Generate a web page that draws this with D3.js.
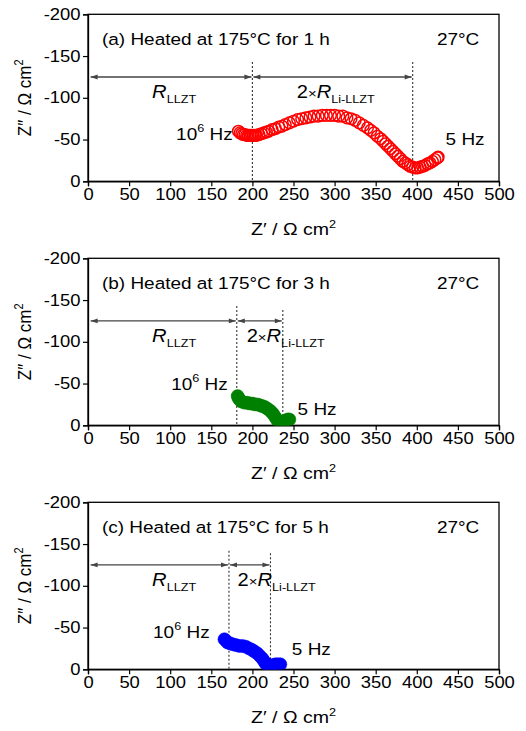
<!DOCTYPE html>
<meta charset="utf-8">
<style>
body { margin: 0; background: #fff; }
text { font-family: "Liberation Sans", Arial, sans-serif; fill: #000; }
</style>
<body>
<script src="https://cdn.jsdelivr.net/npm/d3@7"></script>
<script>

// Nyquist data, [Z', Z''] in ohm cm2
var impA = [
  [183,-60],[185,-58],[187,-57],[189,-56],[191,-56],[193,-55],[195,-55],[197,-55],
  [199,-55],[201,-55],[203,-55],[205,-55],[208,-56],[211,-57],[214,-58],[217,-59],
  [220,-60],[224,-62],[228,-63],[232,-65],[236,-66],[240,-68],[245,-70],[250,-72],
  [255,-74],[260,-75],[265,-76],[270,-77],[275,-78],[280,-78],[285,-79],[290,-79],
  [295,-79],[300,-79],[305,-78],[310,-78],[315,-76],[320,-75],[325,-73],[330,-70],
  [335,-67],[340,-64],[344,-61],[348,-58],[352,-54],[356,-51],[359,-48],[362,-45],
  [365,-42],[368,-39],[371,-36],[374,-33],[377,-30],[380,-27],[383,-24],[386,-22],
  [389,-20],[392,-18],[395,-17],[398,-16],[401,-16],[404,-17],[407,-18],[410,-19],
  [413,-21],[416,-22],[419,-24],[422,-26],[425,-28],[426,-29]
];
var impB = [
  [182,-35],[183,-33],[184,-31],[186,-29],[188,-28],[191,-27],[194,-27],[197,-26],
  [200,-26],[203,-25],[206,-25],[209,-24],[212,-23],[215,-22],[218,-20],[221,-18],
  [223,-16],[225,-14],[227,-11],[229,-8],[231,-5],[233,-3],[235,-2],[237,-3],
  [239,-5],[241,-6],[243,-7],[245,-7]
];
var impC = [
  [166,-36],[168,-34],[170,-32],[173,-31],[176,-30],[180,-29],[184,-28],[188,-28],
  [192,-27],[196,-25],[200,-23],[203,-21],[206,-19],[209,-16],[212,-13],[214,-10],
  [216,-7],[218,-5],[220,-4],[222,-4],[225,-5],[228,-6],[231,-6],[234,-6]
];

var panelTitles = ["(a) Heated at 175\u00b0C for 1 h",
                   "(b) Heated at 175\u00b0C for 3 h",
                   "(c) Heated at 175\u00b0C for 5 h"];
var series = [impA, impB, impC];
var colors = ["red", "#008000", "#0000ff"];
var openMarker = [true, false, false];

// boundaries R_LLZT | 2xR_Li-LLZT, and tops of the dashed lines
var bound1 = [200, 181, 171.5];
var bound2 = [395, 237, 222];
var top1 = [-143, -143, -142];
var top2 = [-143, -138, -139];
var rliX = [254, 193, 182];   // start of the 2xR label
var hfLabelX = [176, 170, 148], hfLabelY = [-49, -42, -37];
var lfLabelX = [435, 255, 248], lfLabelY = [-44, -12, -17];

var xTicks = d3.range(0, 501, 50), yTicks = d3.range(-200, 1, 50);

var W = 526, H = 731;
var left = 88, plotW = 411, plotH = 167;
var tops = [14.3, 258.3, 502.3];
var sx = 1.15;   // glyphs in the picture are a bit wide

var svg = d3.select("body").append("svg")
            .attr("width", W)
            .attr("height", H);

svg.append("defs").append("marker")
   .attr("id", "ah")
   .attr("viewBox", "0 0 10 10")
   .attr("refX", 10).attr("refY", 5)
   .attr("markerWidth", 8).attr("markerHeight", 7)
   .attr("markerUnits", "userSpaceOnUse")
   .attr("orient", "auto-start-reverse")
   .append("path")
   .attr("d", "M0,1.5 L10,5 L0,8.5 Z")
   .attr("fill", "#444");

var x = d3.scaleLinear().domain([0, 500]).range([0, plotW]);
var y = d3.scaleLinear().domain([0, -200]).range([plotH, 0]);

function label(g, px, py, anchor, size) {
  return g.append("text")
    .attr("transform", "translate(" + px + "," + py + ") scale(" + sx + ",1)")
    .attr("text-anchor", anchor || "start")
    .style("font-size", (size || 16) + "px");
}

series.forEach(function(data, i) {
  var g = svg.append("g")
     .attr("transform", "translate(" + left + "," + tops[i] + ")");

  g.append("clipPath").attr("id", "clip" + i)
   .append("rect").attr("width", plotW).attr("height", plotH);

  // minor ticks
  var xa = g.append("g").attr("transform", "translate(0," + plotH + ")");
  xa.call(d3.axisBottom(x).tickValues(d3.range(25, 500, 50)).tickSize(3).tickFormat(""));
  xa.call(d3.axisBottom(x).tickValues(xTicks).tickSize(5).tickFormat(function(d){return String(d);}));
  xa.selectAll("text").attr("transform", "scale(" + sx + ",1)")
    .attr("y", 7).style("font-size", "16px").attr("fill", "#000");

  var ya = g.append("g");
  ya.call(d3.axisLeft(y).tickValues(d3.range(-175, 0, 50)).tickSize(3).tickFormat(""));
  ya.call(d3.axisLeft(y).tickValues(yTicks).tickSize(5).tickFormat(function(d){return String(d);}));
  ya.selectAll("text").attr("transform", "scale(" + sx + ",1)")
    .attr("x", -6.5).style("font-size", "16px").attr("fill", "#000");

  g.selectAll(".domain").attr("stroke", "#000").attr("stroke-width", 1.3);
  g.selectAll(".tick line").attr("stroke", "#000").attr("stroke-width", 1.2);

  g.append("rect")
   .attr("width", plotW).attr("height", plotH)
   .attr("fill", "none").attr("stroke", "#000").attr("stroke-width", 1.3);

  // dashed boundaries
  g.selectAll("line.bnd")
   .data([[bound1[i], top1[i]], [bound2[i], top2[i]]])
   .enter().append("line")
   .attr("class", "bnd")
   .attr("x1", function(d){return x(d[0]);}).attr("x2", function(d){return x(d[0]);})
   .attr("y1", function(d){return y(d[1]);}).attr("y2", y(0))
   .attr("stroke", "#333").attr("stroke-width", 1.1)
   .attr("stroke-dasharray", "2,2");

  // double arrows
  g.selectAll("line.arr")
   .data([[2, bound1[i]], [bound1[i], bound2[i]]])
   .enter().append("line")
   .attr("class", "arr")
   .attr("x1", function(d){return x(d[0]) + 1;}).attr("x2", function(d){return x(d[1]) - 1;})
   .attr("y1", y(-125)).attr("y2", y(-125))
   .attr("stroke", "#444").attr("stroke-width", 1.4)
   .attr("marker-start", "url(#ah)").attr("marker-end", "url(#ah)");

  // data
  g.append("g").attr("clip-path", "url(#clip" + i + ")")
   .selectAll("circle")
   .data(data)
   .enter().append("circle")
   .attr("cx", function(d){return x(d[0]);})
   .attr("cy", function(d){return y(d[1]);})
   .attr("r", openMarker[i] ? 5.8 : 6.5)
   .attr("fill", openMarker[i] ? "none" : colors[i])
   .attr("stroke", colors[i])
   .attr("stroke-width", openMarker[i] ? 1.5 : 0.5);

  // texts
  label(g, x(17), y(-163), "start", 16.5).text(panelTitles[i]);
  label(g, x(476), y(-163), "end", 16.5).text("27\u00b0C");

  var t1 = label(g, x(78), y(-100), "start", 17.5);
  t1.append("tspan").style("font-style", "italic").text("R");
  t1.append("tspan").attr("dy", 5).style("font-size", "11px").text("LLZT");

  var t2 = label(g, x(rliX[i]), y(-100), "start", 17.5);
  t2.append("tspan").text("2");
  t2.append("tspan").style("font-size", "13px").text("\u00d7");
  t2.append("tspan").style("font-style", "italic").text("R");
  t2.append("tspan").attr("dy", 5).style("font-size", "11px").text("Li-LLZT");

  var t3 = label(g, x(hfLabelX[i]), y(hfLabelY[i]), "end", 16.5);
  t3.append("tspan").text("10");
  t3.append("tspan").attr("dy", -8).style("font-size", "11px").text("6");
  t3.append("tspan").attr("dy", 8).text(" Hz");

  label(g, x(lfLabelX[i]), y(lfLabelY[i]), "start", 16.5).text("5 Hz");

  // axis titles
  var xt = label(g, plotW / 2, plotH + 54, "middle", 17);
  xt.append("tspan").text("Z\u2032 / \u03a9 cm");
  xt.append("tspan").attr("dy", -7).style("font-size", "11px").text("2");

  var yt = g.append("text")
    .attr("transform", "translate(" + (-57) + "," + (plotH / 2) + ") rotate(-90) scale(1,1.12)")
    .attr("text-anchor", "middle")
    .style("font-size", "17px");
  yt.append("tspan").text("Z\u2033 / \u03a9 cm");
  yt.append("tspan").attr("dy", -7).style("font-size", "11px").text("2");
});

</script>
</body>
